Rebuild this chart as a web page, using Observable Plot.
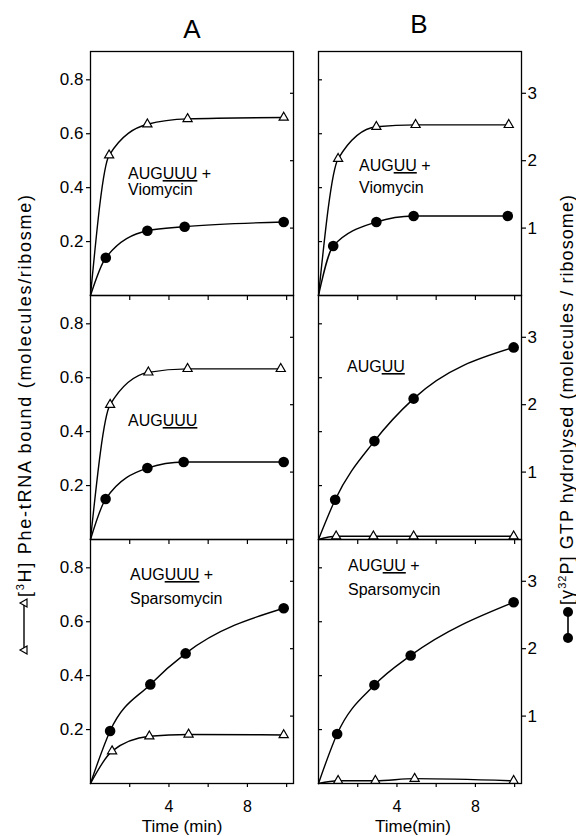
<!DOCTYPE html>
<html>
<head>
<meta charset="utf-8">
<script src="https://cdn.jsdelivr.net/npm/d3@7"></script>
<script src="https://cdn.jsdelivr.net/npm/@observablehq/plot@0.6"></script>
<style>
  html, body { margin: 0; padding: 0; background: #fff; }
  #root { position: relative; width: 576px; height: 836px; overflow: hidden; background: #fff;
          font-family: "Liberation Sans", Arial, sans-serif; }
</style>
</head>
<body>
<div id="root"></div>
<script>
// ---------------- data ----------------
// axis ticks
const timeTicks = [2, 4, 6, 8, 10];
const timeTickLabels = [4, 8];
const pheTicks = [0.2, 0.4, 0.6, 0.8];      // [3H] Phe-tRNA bound (left axis)
const gtpTicks = [1, 2, 3];                 // [γ32P] GTP hydrolysed (right axis)
const gtpPerPhe = 4;                        // right axis units per left axis unit

// Column A: AUGUUU ; Column B: AUGUU
// triangles = Phe-tRNA bound ; circles = GTP hydrolysed
const A1_pheT = [0, 0.95, 2.9, 4.95, 9.85];
const A1_phe  = [0, 0.52, 0.635, 0.655, 0.66];
const A1_gtpT = [0, 0.78, 2.9, 4.8, 9.85];
const A1_gtp  = [0, 0.56, 0.96, 1.02, 1.09];

const A2_pheT = [0, 1.0, 2.95, 4.95, 9.7];
const A2_phe  = [0, 0.50, 0.62, 0.633, 0.633];
const A2_gtpT = [0, 0.77, 2.9, 4.75, 9.85];
const A2_gtp  = [0, 0.60, 1.06, 1.15, 1.15];

const A3_pheT = [0, 1.1, 3.0, 5.0, 9.85];
const A3_phe  = [0, 0.12, 0.175, 0.182, 0.18];
const A3_gtpT = [0, 1.0, 3.05, 4.85, 9.85];
const A3_gtp  = [0, 0.78, 1.47, 1.93, 2.60];

const B1_pheT = [0, 1.0, 2.95, 4.95, 9.7];
const B1_phe  = [0, 0.507, 0.626, 0.633, 0.633];
const B1_gtpT = [0, 0.75, 2.95, 4.85, 9.65];
const B1_gtp  = [0, 0.735, 1.09, 1.18, 1.18];

const B2_pheT = [0, 0.9, 2.8, 4.85, 9.95];
const B2_phe  = [0, 0.012, 0.012, 0.012, 0.012];
const B2_gtpT = [0, 0.85, 2.85, 4.85, 9.95];
const B2_gtp  = [0, 0.59, 1.46, 2.09, 2.85];

const B3_pheT = [0, 1.0, 2.9, 4.9, 9.95];
const B3_phe  = [0, 0.01, 0.01, 0.018, 0.01];
const B3_gtpT = [0, 0.95, 2.85, 4.7, 9.95];
const B3_gtp  = [0, 0.735, 1.46, 1.90, 2.69];

// panel annotations
const codonA = "UUU";
const codonB = "UU";
const annotA1 = ["AUG", codonA, " +", "Viomycin"];
const annotA2 = ["AUG", codonA, "", ""];
const annotA3 = ["AUG", codonA, " +", "Sparsomycin"];
const annotB1 = ["AUG", codonB, " +", "Viomycin"];
const annotB2 = ["AUG", codonB, "", ""];
const annotB3 = ["AUG", codonB, " +", "Sparsomycin"];

const columnTitles = ["A", "B"];
const xTitles = ["Time (min)", "Time(min)"];
const leftTitle = "Phe-tRNA bound (molecules/ribosme)";
const rightTitle = "GTP hydrolysed (molecules / ribosome)";

// ---------------- layout ----------------
const X_DOMAIN = [0, 10.35];
const Y_DOMAIN = [0, 0.905];
const FRAME_LEFT = {A: 90, B: 318};
const ROW_TOP = [51, 295, 539];
const W = 203, H = 244;
const ML = 45, MR = 45, MT = 10;
const FONT = '"Liberation Sans", Arial, sans-serif';
const TICK = 4;

const panels = [
  {col: "A", row: 0, pheT: A1_pheT, phe: A1_phe, gtpT: A1_gtpT, gtp: A1_gtp},
  {col: "A", row: 1, pheT: A2_pheT, phe: A2_phe, gtpT: A2_gtpT, gtp: A2_gtp},
  {col: "A", row: 2, pheT: A3_pheT, phe: A3_phe, gtpT: A3_gtpT, gtp: A3_gtp},
  {col: "B", row: 0, pheT: B1_pheT, phe: B1_phe, gtpT: B1_gtpT, gtp: B1_gtp},
  {col: "B", row: 1, pheT: B2_pheT, phe: B2_phe, gtpT: B2_gtpT, gtp: B2_gtp},
  {col: "B", row: 2, pheT: B3_pheT, phe: B3_phe, gtpT: B3_gtpT, gtp: B3_gtp}
];

const root = document.getElementById("root");
const blank = () => "";

// inward ticks: an outward axis tick shifted inside the frame by its own length
function innerTicksY(values, side) {
  return Plot.axisY(values, {anchor: side, tickSize: TICK, dx: side === "left" ? TICK : -TICK,
    tickFormat: blank, label: null, strokeWidth: 1.2});
}
function innerTicksTop(values) {
  return Plot.axisX(values, {anchor: "top", tickSize: TICK, dy: TICK, tickFormat: blank, label: null, strokeWidth: 1.2});
}

function makePanel(p) {
  const bottom = p.row === 2;
  const MB = bottom ? 40 : 10;
  const isA = p.col === "A";
  const tri = p.pheT.map((t, i) => ({t, v: p.phe[i]}));
  const gtp = p.gtpT.map((t, i) => ({t, v: p.gtp[i]}));
  const gtpPos = gtpTicks.map(v => v / gtpPerPhe);
  const marks = [
    Plot.frame({stroke: "black", strokeWidth: 1.3}),
    isA
      ? Plot.axisY(pheTicks, {anchor: "left", tickSize: TICK, tickPadding: 3, tickFormat: d3.format(".1f"), label: null, fontSize: 17, strokeWidth: 1.2})
      : innerTicksY(pheTicks, "left"),
    isA
      ? innerTicksY(gtpPos, "right")
      : Plot.axisY(gtpPos, {anchor: "right", tickSize: TICK, tickPadding: 2, tickFormat: d => Math.round(d * gtpPerPhe), label: null, fontSize: 17, strokeWidth: 1.2})
  ];
  if (p.row > 0) marks.push(innerTicksTop(timeTicks));
  if (bottom) marks.push(Plot.axisX(timeTicks, {anchor: "bottom", tickSize: TICK, tickPadding: 13,
      tickFormat: d => timeTickLabels.includes(d) ? String(d) : "", label: null, fontSize: 16, strokeWidth: 1.2}));
  marks.push(
    Plot.line(gtp, {x: "t", y: d => d.v / gtpPerPhe, curve: "monotone-x", stroke: "black", strokeWidth: 1.4}),
    Plot.line(tri, {x: "t", y: "v", curve: "monotone-x", stroke: "black", strokeWidth: 1.4}),
    Plot.dot(gtp.filter(d => d.t > 0), {x: "t", y: d => d.v / gtpPerPhe, r: 5.3, fill: "black", stroke: "none"}),
    Plot.dot(tri.filter(d => d.t > 0), {x: "t", y: "v", symbol: "triangle", r: 3.4, fill: "white", stroke: "black", strokeWidth: 1.2})
  );
  const svg = Plot.plot({
    width: W + ML + MR,
    height: H + MT + MB,
    marginLeft: ML, marginRight: MR, marginTop: MT, marginBottom: MB,
    x: p.row === 0 ? {domain: X_DOMAIN, label: null, axis: null} : {domain: X_DOMAIN, label: null},
    y: {domain: Y_DOMAIN, label: null},
    style: {background: "transparent", fontFamily: FONT, fontSize: "17px", color: "black", overflow: "visible"},
    marks
  });
  svg.style.position = "absolute";
  svg.style.left = (FRAME_LEFT[p.col] - ML) + "px";
  svg.style.top = (ROW_TOP[p.row] - MT) + "px";
  root.appendChild(svg);
}
panels.forEach(makePanel);

// ---------------- overlay text ----------------
const ov = d3.select(root).append("svg")
  .attr("width", 576).attr("height", 836)
  .style("position", "absolute").style("left", "0px").style("top", "0px")
  .style("pointer-events", "none")
  .attr("font-family", FONT);

// column titles
ov.append("text").attr("x", 192).attr("y", 38).attr("text-anchor", "middle").attr("font-size", 26).text(columnTitles[0]);
ov.append("text").attr("x", 419).attr("y", 33).attr("text-anchor", "middle").attr("font-size", 26).text(columnTitles[1]);

// x titles
ov.append("text").attr("x", 182).attr("y", 832).attr("text-anchor", "middle").attr("font-size", 17).text(xTitles[0]);
ov.append("text").attr("x", 413).attr("y", 832).attr("text-anchor", "middle").attr("font-size", 17).text(xTitles[1]);

// panel annotations
function annot(a, x, y1, y2) {
  const t = ov.append("text").attr("x", x).attr("y", y1).attr("font-size", 16);
  t.append("tspan").text(a[0]);
  t.append("tspan").style("text-decoration", "underline").style("text-decoration-thickness", "2px").text(a[1]);
  if (a[2]) t.append("tspan").text(a[2]);
  if (a[3]) ov.append("text").attr("x", x).attr("y", y2).attr("font-size", 16).text(a[3]);
}
annot(annotA1, 128, 179, 195);
annot(annotA2, 128, 426, 0);
annot(annotA3, 130, 580, 604);
annot(annotB1, 359, 171, 193);
annot(annotB2, 347, 372, 0);
annot(annotB3, 348, 571, 595);

// left axis title with legend symbol
{
  const g = ov.append("g");
  g.append("line").attr("x1", 24).attr("x2", 24).attr("y1", 604).attr("y2", 649).attr("stroke", "black").attr("stroke-width", 1.4);
  [603, 650].forEach(y => g.append("path")
    .attr("d", `M${20},${y} L${27},${y - 4} L${27},${y + 4} Z`)
    .attr("fill", "white").attr("stroke", "black").attr("stroke-width", 1.2));
  const t = ov.append("text").attr("transform", "translate(31,597) rotate(-90)").attr("font-size", 18)
    .attr("textLength", 402).attr("lengthAdjust", "spacing");
  t.append("tspan").text("[");
  t.append("tspan").attr("font-size", 11).attr("dy", -7).text("3");
  t.append("tspan").attr("dy", 7).text("H] " + leftTitle);
}
// right axis title with legend symbol
{
  const g = ov.append("g");
  g.append("line").attr("x1", 568).attr("x2", 568).attr("y1", 612).attr("y2", 638).attr("stroke", "black").attr("stroke-width", 1.6);
  [612, 638].forEach(y => g.append("circle").attr("cx", 568).attr("cy", y).attr("r", 5).attr("fill", "black"));
  const t = ov.append("text").attr("transform", "translate(573,605) rotate(-90)").attr("font-size", 18)
    .attr("textLength", 410).attr("lengthAdjust", "spacing");
  t.append("tspan").text("[γ");
  t.append("tspan").attr("font-size", 11).attr("dy", -7).text("32");
  t.append("tspan").attr("dy", 7).text("P] " + rightTitle);
}
</script>
</body>
</html>
